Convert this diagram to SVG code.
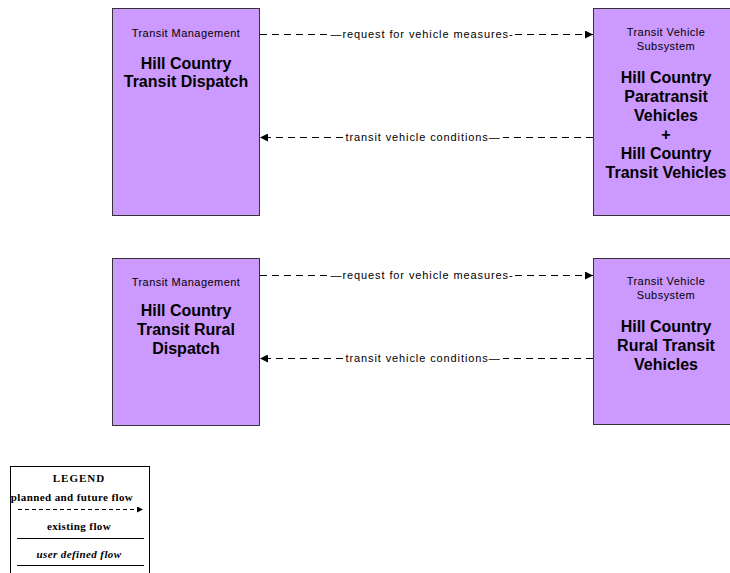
<svg xmlns="http://www.w3.org/2000/svg" width="730" height="573" viewBox="0 0 730 573">
<defs>
<style>
.box{fill:#cc99ff;stroke:#333;stroke-width:1}
.sm{font-family:"Liberation Sans",Arial,sans-serif;font-size:11px;letter-spacing:0.45px;fill:#000;text-anchor:middle}
.bd{font-family:"Liberation Sans",Arial,sans-serif;font-size:16px;font-weight:bold;fill:#000;text-anchor:middle}
.lbl{font-family:"Liberation Sans",Arial,sans-serif;font-size:11px;letter-spacing:0.9px;fill:#000;text-anchor:middle}
.flow{fill:none;stroke:#000;stroke-width:1;stroke-dasharray:7 5}
.solid{fill:none;stroke:#000;stroke-width:1}
.lg{font-family:"Liberation Serif","Times New Roman",serif;font-size:11px;font-weight:bold;fill:#000;text-anchor:middle}
</style>
<marker id="ah" viewBox="0 0 8 8" refX="8" refY="4" markerWidth="8" markerHeight="8" markerUnits="userSpaceOnUse" orient="auto">
<path d="M0,0 L8,4 L0,8 Z" fill="#000"/>
</marker>
<marker id="ahs" viewBox="0 0 6 6" refX="6" refY="3" markerWidth="6" markerHeight="6" markerUnits="userSpaceOnUse" orient="auto">
<path d="M0,0 L6,3 L0,6 Z" fill="#000"/>
</marker>
</defs>
<rect width="730" height="573" fill="#fff"/>

<g id="node-tm1">
<rect class="box" x="112.5" y="8.5" width="147" height="207"/>
<text class="sm" x="186" y="37">Transit Management</text>
<text class="bd" x="186" y="69">Hill Country</text>
<text class="bd" x="186" y="87">Transit Dispatch</text>
</g>

<g id="node-tv1">
<rect class="box" x="593.5" y="8.5" width="148" height="207"/>
<text class="sm" x="666" y="36">Transit Vehicle</text>
<text class="sm" x="666" y="50">Subsystem</text>
<text class="bd" x="666" y="83">Hill Country</text>
<text class="bd" x="666" y="102">Paratransit</text>
<text class="bd" x="666" y="121">Vehicles</text>
<text class="bd" x="666" y="140">+</text>
<text class="bd" x="666" y="159">Hill Country</text>
<text class="bd" x="666" y="178">Transit Vehicles</text>
</g>

<g id="node-tm2">
<rect class="box" x="112.5" y="258.5" width="147" height="167"/>
<text class="sm" x="186" y="286">Transit Management</text>
<text class="bd" x="186" y="316">Hill Country</text>
<text class="bd" x="186" y="335">Transit Rural</text>
<text class="bd" x="186" y="354">Dispatch</text>
</g>

<g id="node-tv2">
<rect class="box" x="593.5" y="258.5" width="148" height="166"/>
<text class="sm" x="666" y="285">Transit Vehicle</text>
<text class="sm" x="666" y="299">Subsystem</text>
<text class="bd" x="666" y="332">Hill Country</text>
<text class="bd" x="666" y="351">Rural Transit</text>
<text class="bd" x="666" y="370">Vehicles</text>
</g>

<g id="connectors">
<path class="flow" d="M260,34.5 H328"/>
<path class="flow" d="M515,34.5 H593" marker-end="url(#ah)"/>
<text class="lbl" x="422" y="38">—request for vehicle measures-</text>

<path class="flow" d="M343,137.5 H260" marker-end="url(#ah)"/>
<path class="flow" d="M593,137.5 H503"/>
<text class="lbl" x="423" y="141">transit vehicle conditions—</text>

<path class="flow" d="M260,275.5 H328"/>
<path class="flow" d="M515,275.5 H593" marker-end="url(#ah)"/>
<text class="lbl" x="422" y="279">—request for vehicle measures-</text>

<path class="flow" d="M343,358.5 H260" marker-end="url(#ah)"/>
<path class="flow" d="M593,358.5 H503"/>
<text class="lbl" x="423" y="362">transit vehicle conditions—</text>
</g>

<g id="legend">
<rect x="10.5" y="466.5" width="139" height="120" fill="#fff" stroke="#000" stroke-width="1"/>
<text class="lg" x="79" y="482" style="letter-spacing:1px">LEGEND</text>
<text class="lg" x="72" y="501" style="letter-spacing:0.4px">planned and future flow</text>
<path class="flow" d="M18,509.5 H143" style="stroke-dasharray:4 3" marker-end="url(#ahs)"/>
<text class="lg" x="79" y="530" style="letter-spacing:0.4px">existing flow</text>
<path class="solid" d="M17,538.5 H144"/>
<text class="lg" x="79" y="558" style="font-style:italic;letter-spacing:0.4px">user defined flow</text>
<path class="solid" d="M17,565.5 H144"/>
</g>
</svg>
